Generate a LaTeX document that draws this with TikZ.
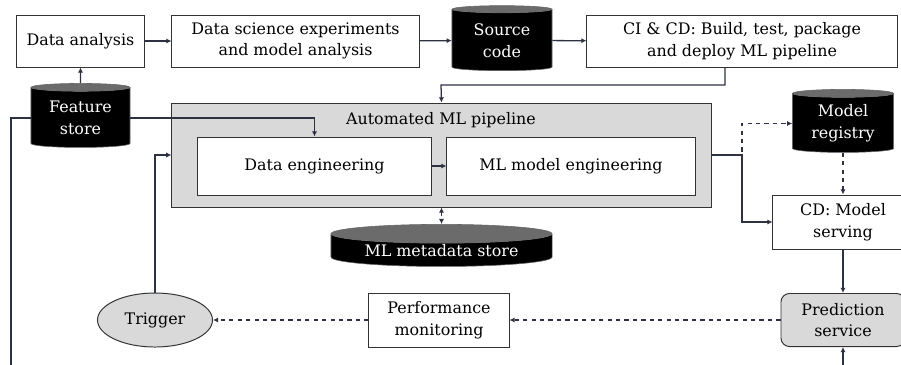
\documentclass[tikz,border=0pt]{standalone}
\usepackage{fontspec}
\setmainfont{DejaVu Serif}
\usepackage{tikz}
\usetikzlibrary{positioning}
\usetikzlibrary{shapes,shapes.geometric,calc,arrows.meta}
\definecolor{linec}{HTML}{2E3142}
\definecolor{boxgray}{HTML}{D9D9D9}
\definecolor{capgray}{HTML}{6B6B6B}
\tikzset{
  conn/.style = {draw=linec, line width=0.9pt, -{Latex[length=1.3mm,width=1.3mm]}},
  box/.style = {rectangle, draw=black!80, line width=0.7pt, fill=white,
   align=center, inner sep=2pt, minimum height=1.3cm},
  dbstore/.style = {cylinder, shape border rotate=90, aspect=0.12, draw=black!60,
   cylinder uses custom fill, cylinder body fill=black, cylinder end fill=capgray,
   text=white, align=center, inner sep=1pt},
  every node/.append style = {font=\fontsize{11.3}{15.5}\selectfont},
}
\begin{document}
\begin{tikzpicture}[x=0.025cm, y=-0.025cm]
\useasboundingbox (0,0) rectangle (901,364);
% top row
\node[box, minimum width=3.175cm] at (80.5,41) (da) {Data analysis};
\node[box, minimum width=6.175cm] at (295.5,41) (dse) {Data science experiments\\and model analysis};
\node[dbstore, minimum width=2.5cm, minimum height=1.625cm] at (502,40.5) (src) {Source\\code};
\node[box, minimum width=7.75cm] at (742,41) (cicd) {CI \& CD: Build, test, package\\and deploy ML pipeline};
% pipeline
\node[box, fill=boxgray, minimum width=13.475cm, minimum height=2.6cm] at (441.5,155) (pipe) {};
\node at (441,120) (pipetitle) {Automated ML pipeline};
\node[box, minimum width=5.825cm, minimum height=1.45cm] at (314.5,166) (de) {Data engineering};
\node[box, minimum width=6.2cm, minimum height=1.45cm] at (571,166) (mle) {ML model engineering};
% stores
\node[dbstore, minimum width=2.475cm, minimum height=1.6cm] at (80.5,118) (fs) {Feature\\store};
\node[dbstore, minimum width=5.525cm, minimum height=1.05cm] at (441.5,251) (meta) {ML metadata store};
\node[dbstore, minimum width=2.525cm, minimum height=1.575cm] at (843,123.5) (reg) {Model\\registry};
% serving and monitoring
\node[box, minimum width=3.5cm, minimum height=1.35cm] at (843,222) (cd) {CD: Model\\serving};
\node[box, fill=boxgray, rounded corners=6pt, minimum width=3.1cm, minimum height=1.325cm] at (843,320) (pred) {Prediction\\service};
\node[box, minimum width=3.5cm, minimum height=1.35cm] at (439,320) (perf) {Performance\\monitoring};
\node[ellipse, draw=black!80, line width=0.7pt, fill=boxgray, minimum width=2.875cm, minimum height=1.35cm] at (155,320) (trig) {Trigger};
\coordinate (cijog) at (441,85);
\coordinate (split) at (742,155);
\coordinate (loopL) at (11,390);
% connectors
\draw[conn] (da) -- (dse);
\draw[conn] (dse) -- (src);
\draw[conn] (src) -- (cicd);
\draw[conn] ([xshift=-0.425cm]cicd.south) |- (cijog) -- (pipe.north);
\draw[conn] (fs.north) -- (da.south);
\draw[conn] (fs.east) -| (de.north);
\draw[conn] (fs.west) -| (loopL) -| (pred.south);
\draw[conn] (trig.north) |- (pipe.west);
\draw[conn] (de) -- (mle);
\draw[conn, dashed, {Latex[length=1.3mm,width=1.3mm]}-{Latex[length=1.3mm,width=1.3mm]}] (pipe.south) -- (meta.north);
\draw[conn, dashed] (pipe.east) -- (split) |- (reg.west);
\draw[conn] (pipe.east) -- (split) |- (cd.west);
\draw[conn, dashed] (reg.south) -- (cd.north);
\draw[conn] (cd.south) -- (pred.north);
\draw[conn, dashed] (pred.west) -- (perf.east);
\draw[conn, dashed] (perf.west) -- (trig.east);
\end{tikzpicture}
\end{document}
